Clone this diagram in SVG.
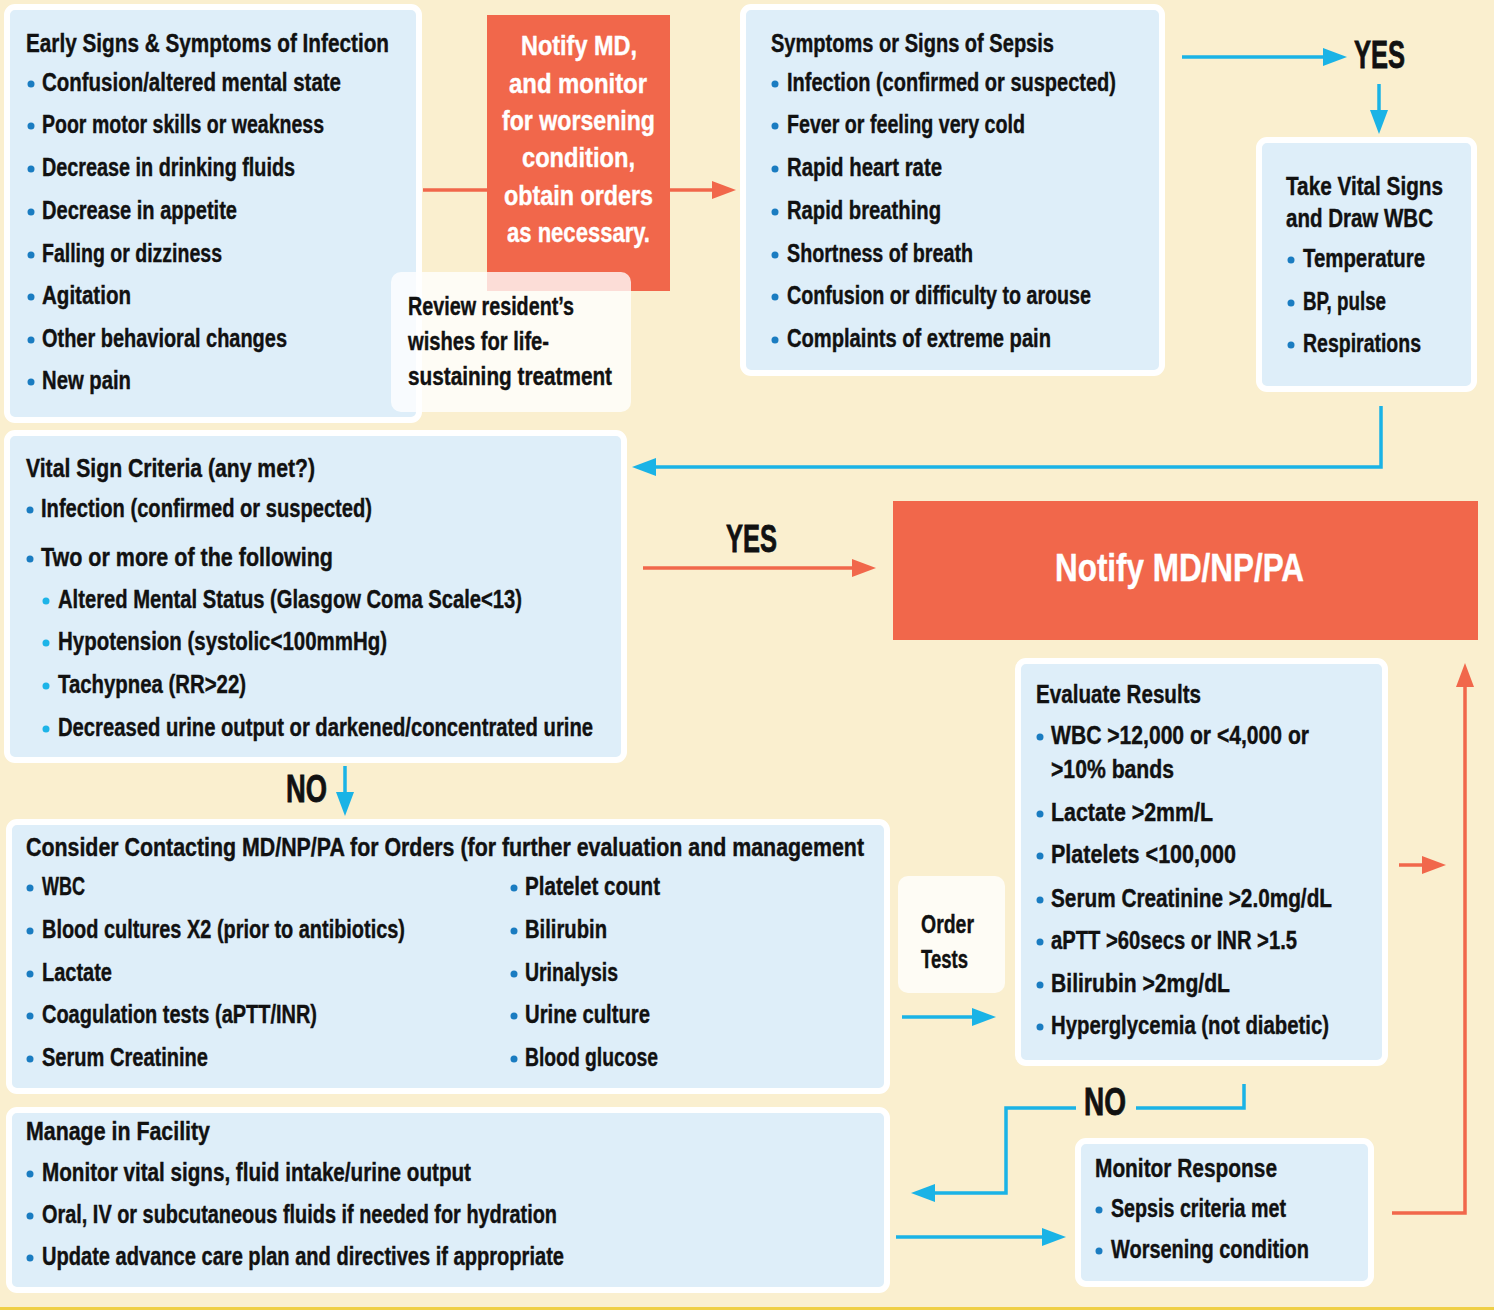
<svg xmlns="http://www.w3.org/2000/svg" width="1494" height="1310" viewBox="0 0 1494 1310">
<style>
text{font-family:"Liberation Sans Narrow","Liberation Sans",Arial,sans-serif;font-weight:700;fill:#111;stroke:#111;stroke-width:0.4;}
.t{font-size:25px;}
.w{font-size:28px;fill:#fff;stroke:#fff;}
.big{font-size:39px;fill:#fff;stroke:#fff;}
.lab{font-size:38px;stroke-width:0.8;}
.box{fill:#deeef9;stroke:#fff;stroke-width:6;}
.note{fill:#fff;fill-opacity:0.78;}
.org{fill:#f1674b;}
.b{fill:#1a7cc1;}
.sb{fill:#1db4e8;}
.cy{fill:none;stroke:#1ab3e6;stroke-width:3.5;}
.or{fill:none;stroke:#f1674b;stroke-width:3.5;}
</style>
<defs>
<marker id="ac" markerUnits="userSpaceOnUse" viewBox="0 0 24 18" markerWidth="24" markerHeight="18" refX="4" refY="9" orient="auto"><path d="M0,0 L24,9 L0,18 z" fill="#1ab3e6"/></marker>
<marker id="ao" markerUnits="userSpaceOnUse" viewBox="0 0 24 18" markerWidth="24" markerHeight="18" refX="4" refY="9" orient="auto"><path d="M0,0 L24,9 L0,18 z" fill="#f1674b"/></marker>
</defs>
<rect x="0" y="0" width="1494" height="1310" fill="#faefcf"/>
<rect x="0" y="1307" width="1494" height="3" fill="#efcf45"/>

<g id="connectors">
<path class="or" d="M423,190 H716" marker-end="url(#ao)"/>
<path class="cy" d="M1182,57 H1327" marker-end="url(#ac)"/>
<path class="cy" d="M1379,84 V114" marker-end="url(#ac)"/>
<path class="cy" d="M1381,406 V467 H652" marker-end="url(#ac)"/>
<path class="or" d="M643,568 H856" marker-end="url(#ao)"/>
<path class="cy" d="M345,766 V796" marker-end="url(#ac)"/>
<path class="cy" d="M902,1017 H976" marker-end="url(#ac)"/>
<path class="or" d="M1399,865 H1426" marker-end="url(#ao)"/>
<path class="or" d="M1392,1213 H1465 V683" marker-end="url(#ao)"/>
<path class="cy" d="M1244,1084 V1108 H1136"/>
<path class="cy" d="M1076,1108 H1006 V1193 H931" marker-end="url(#ac)"/>
<path class="cy" d="M896,1237 H1046" marker-end="url(#ac)"/>
<text class="lab" x="1354" y="68" textLength="51" lengthAdjust="spacingAndGlyphs">YES</text>
<text class="lab" x="726" y="552" textLength="51" lengthAdjust="spacingAndGlyphs">YES</text>
<text class="lab" x="286" y="802" textLength="41" lengthAdjust="spacingAndGlyphs">NO</text>
<text class="lab" x="1084" y="1115" textLength="42" lengthAdjust="spacingAndGlyphs">NO</text>
</g>

<g id="early-signs">
<rect class="box" x="7" y="7" width="412" height="413" rx="8"/>
<text class="t" x="26" y="52" textLength="363" lengthAdjust="spacingAndGlyphs">Early Signs &amp; Symptoms of Infection</text>
<circle class="b" cx="31" cy="84" r="3.5"/><text class="t" x="42" y="91" textLength="299" lengthAdjust="spacingAndGlyphs">Confusion/altered mental state</text>
<circle class="b" cx="31" cy="126" r="3.5"/><text class="t" x="42" y="133" textLength="282" lengthAdjust="spacingAndGlyphs">Poor motor skills or weakness</text>
<circle class="b" cx="31" cy="169" r="3.5"/><text class="t" x="42" y="176" textLength="253" lengthAdjust="spacingAndGlyphs">Decrease in drinking fluids</text>
<circle class="b" cx="31" cy="212" r="3.5"/><text class="t" x="42" y="219" textLength="195" lengthAdjust="spacingAndGlyphs">Decrease in appetite</text>
<circle class="b" cx="31" cy="255" r="3.5"/><text class="t" x="42" y="262" textLength="180" lengthAdjust="spacingAndGlyphs">Falling or dizziness</text>
<circle class="b" cx="31" cy="297" r="3.5"/><text class="t" x="42" y="304" textLength="89" lengthAdjust="spacingAndGlyphs">Agitation</text>
<circle class="b" cx="31" cy="340" r="3.5"/><text class="t" x="42" y="347" textLength="245" lengthAdjust="spacingAndGlyphs">Other behavioral changes</text>
<circle class="b" cx="31" cy="382" r="3.5"/><text class="t" x="42" y="389" textLength="89" lengthAdjust="spacingAndGlyphs">New pain</text>
</g>

<g id="notify-md-monitor">
<rect class="org" x="487" y="15" width="183" height="276"/>
<text class="w" x="521" y="55" textLength="116" lengthAdjust="spacingAndGlyphs">Notify MD,</text>
<text class="w" x="509" y="93" textLength="138" lengthAdjust="spacingAndGlyphs">and monitor</text>
<text class="w" x="502" y="130" textLength="153" lengthAdjust="spacingAndGlyphs">for worsening</text>
<text class="w" x="522" y="167" textLength="113" lengthAdjust="spacingAndGlyphs">condition,</text>
<text class="w" x="504" y="205" textLength="149" lengthAdjust="spacingAndGlyphs">obtain orders</text>
<text class="w" x="507" y="242" textLength="143" lengthAdjust="spacingAndGlyphs">as necessary.</text>
</g>

<g id="review-wishes">
<rect class="note" x="391" y="272" width="240" height="140" rx="10"/>
<text class="t" x="408" y="315" textLength="166" lengthAdjust="spacingAndGlyphs">Review resident’s</text>
<text class="t" x="408" y="350" textLength="141" lengthAdjust="spacingAndGlyphs">wishes for life-</text>
<text class="t" x="408" y="385" textLength="204" lengthAdjust="spacingAndGlyphs">sustaining treatment</text>
</g>

<g id="sepsis-signs">
<rect class="box" x="743" y="7" width="419" height="366" rx="8"/>
<text class="t" x="771" y="52" textLength="283" lengthAdjust="spacingAndGlyphs">Symptoms or Signs of Sepsis</text>
<circle class="b" cx="775" cy="84" r="3.5"/><text class="t" x="787" y="91" textLength="329" lengthAdjust="spacingAndGlyphs">Infection (confirmed or suspected)</text>
<circle class="b" cx="775" cy="126" r="3.5"/><text class="t" x="787" y="133" textLength="238" lengthAdjust="spacingAndGlyphs">Fever or feeling very cold</text>
<circle class="b" cx="775" cy="169" r="3.5"/><text class="t" x="787" y="176" textLength="155" lengthAdjust="spacingAndGlyphs">Rapid heart rate</text>
<circle class="b" cx="775" cy="212" r="3.5"/><text class="t" x="787" y="219" textLength="154" lengthAdjust="spacingAndGlyphs">Rapid breathing</text>
<circle class="b" cx="775" cy="255" r="3.5"/><text class="t" x="787" y="262" textLength="186" lengthAdjust="spacingAndGlyphs">Shortness of breath</text>
<circle class="b" cx="775" cy="297" r="3.5"/><text class="t" x="787" y="304" textLength="304" lengthAdjust="spacingAndGlyphs">Confusion or difficulty to arouse</text>
<circle class="b" cx="775" cy="340" r="3.5"/><text class="t" x="787" y="347" textLength="264" lengthAdjust="spacingAndGlyphs">Complaints of extreme pain</text>
</g>

<g id="take-vitals">
<rect class="box" x="1259" y="140" width="215" height="249" rx="8"/>
<text class="t" x="1286" y="195" textLength="157" lengthAdjust="spacingAndGlyphs">Take Vital Signs</text>
<text class="t" x="1286" y="227" textLength="147" lengthAdjust="spacingAndGlyphs">and Draw WBC</text>
<circle class="b" cx="1291" cy="260" r="3.5"/><text class="t" x="1303" y="267" textLength="122" lengthAdjust="spacingAndGlyphs">Temperature</text>
<circle class="b" cx="1291" cy="303" r="3.5"/><text class="t" x="1303" y="310" textLength="83" lengthAdjust="spacingAndGlyphs">BP, pulse</text>
<circle class="b" cx="1291" cy="345" r="3.5"/><text class="t" x="1303" y="352" textLength="118" lengthAdjust="spacingAndGlyphs">Respirations</text>
</g>

<g id="vital-criteria">
<rect class="box" x="7" y="433" width="617" height="327" rx="8"/>
<text class="t" x="26" y="477" textLength="289" lengthAdjust="spacingAndGlyphs">Vital Sign Criteria (any met?)</text>
<circle class="b" cx="30" cy="510" r="3.5"/><text class="t" x="41" y="517" textLength="331" lengthAdjust="spacingAndGlyphs">Infection (confirmed or suspected)</text>
<circle class="b" cx="30" cy="559" r="3.5"/><text class="t" x="41" y="566" textLength="292" lengthAdjust="spacingAndGlyphs">Two or more of the following</text>
<circle class="sb" cx="46" cy="601" r="3.5"/><text class="t" x="58" y="608" textLength="464" lengthAdjust="spacingAndGlyphs">Altered Mental Status (Glasgow Coma Scale&lt;13)</text>
<circle class="sb" cx="46" cy="643" r="3.5"/><text class="t" x="58" y="650" textLength="329" lengthAdjust="spacingAndGlyphs">Hypotension (systolic&lt;100mmHg)</text>
<circle class="sb" cx="46" cy="686" r="3.5"/><text class="t" x="58" y="693" textLength="188" lengthAdjust="spacingAndGlyphs">Tachypnea (RR&gt;22)</text>
<circle class="sb" cx="46" cy="729" r="3.5"/><text class="t" x="58" y="736" textLength="535" lengthAdjust="spacingAndGlyphs">Decreased urine output or darkened/concentrated urine</text>
</g>

<g id="notify-md-np-pa">
<rect class="org" x="893" y="501" width="585" height="139"/>
<text class="big" x="1055" y="581" textLength="249" lengthAdjust="spacingAndGlyphs">Notify MD/NP/PA</text>
</g>

<g id="consider-contacting">
<rect class="box" x="9" y="822" width="878" height="269" rx="8"/>
<text class="t" x="26" y="856" textLength="838" lengthAdjust="spacingAndGlyphs">Consider Contacting MD/NP/PA for Orders (for further evaluation and management</text>
<circle class="b" cx="30" cy="888" r="3.5"/><text class="t" x="42" y="895" textLength="43" lengthAdjust="spacingAndGlyphs">WBC</text>
<circle class="b" cx="30" cy="931" r="3.5"/><text class="t" x="42" y="938" textLength="363" lengthAdjust="spacingAndGlyphs">Blood cultures X2 (prior to antibiotics)</text>
<circle class="b" cx="30" cy="974" r="3.5"/><text class="t" x="42" y="981" textLength="70" lengthAdjust="spacingAndGlyphs">Lactate</text>
<circle class="b" cx="30" cy="1016" r="3.5"/><text class="t" x="42" y="1023" textLength="275" lengthAdjust="spacingAndGlyphs">Coagulation tests (aPTT/INR)</text>
<circle class="b" cx="30" cy="1059" r="3.5"/><text class="t" x="42" y="1066" textLength="166" lengthAdjust="spacingAndGlyphs">Serum Creatinine</text>
<circle class="b" cx="514" cy="888" r="3.5"/><text class="t" x="525" y="895" textLength="135" lengthAdjust="spacingAndGlyphs">Platelet count</text>
<circle class="b" cx="514" cy="931" r="3.5"/><text class="t" x="525" y="938" textLength="82" lengthAdjust="spacingAndGlyphs">Bilirubin</text>
<circle class="b" cx="514" cy="974" r="3.5"/><text class="t" x="525" y="981" textLength="93" lengthAdjust="spacingAndGlyphs">Urinalysis</text>
<circle class="b" cx="514" cy="1016" r="3.5"/><text class="t" x="525" y="1023" textLength="125" lengthAdjust="spacingAndGlyphs">Urine culture</text>
<circle class="b" cx="514" cy="1059" r="3.5"/><text class="t" x="525" y="1066" textLength="133" lengthAdjust="spacingAndGlyphs">Blood glucose</text>
</g>

<g id="manage-facility">
<rect class="box" x="9" y="1110" width="878" height="180" rx="8"/>
<text class="t" x="26" y="1140" textLength="184" lengthAdjust="spacingAndGlyphs">Manage in Facility</text>
<circle class="b" cx="30" cy="1174" r="3.5"/><text class="t" x="42" y="1181" textLength="429" lengthAdjust="spacingAndGlyphs">Monitor vital signs, fluid intake/urine output</text>
<circle class="b" cx="30" cy="1216" r="3.5"/><text class="t" x="42" y="1223" textLength="515" lengthAdjust="spacingAndGlyphs">Oral, IV or subcutaneous fluids if needed for hydration</text>
<circle class="b" cx="30" cy="1258" r="3.5"/><text class="t" x="42" y="1265" textLength="522" lengthAdjust="spacingAndGlyphs">Update advance care plan and directives if appropriate</text>
</g>

<g id="order-tests">
<rect class="note" x="898" y="876" width="107" height="117" rx="10"/>
<text class="t" x="921" y="933" textLength="53" lengthAdjust="spacingAndGlyphs">Order</text>
<text class="t" x="921" y="968" textLength="47" lengthAdjust="spacingAndGlyphs">Tests</text>
</g>

<g id="evaluate-results">
<rect class="box" x="1018" y="661" width="367" height="402" rx="8"/>
<text class="t" x="1036" y="703" textLength="165" lengthAdjust="spacingAndGlyphs">Evaluate Results</text>
<circle class="b" cx="1040" cy="737" r="3.5"/><text class="t" x="1051" y="744" textLength="258" lengthAdjust="spacingAndGlyphs">WBC &gt;12,000 or &lt;4,000 or</text>
<text class="t" x="1051" y="778" textLength="123" lengthAdjust="spacingAndGlyphs">&gt;10% bands</text>
<circle class="b" cx="1040" cy="814" r="3.5"/><text class="t" x="1051" y="821" textLength="162" lengthAdjust="spacingAndGlyphs">Lactate &gt;2mm/L</text>
<circle class="b" cx="1040" cy="856" r="3.5"/><text class="t" x="1051" y="863" textLength="185" lengthAdjust="spacingAndGlyphs">Platelets &lt;100,000</text>
<circle class="b" cx="1040" cy="900" r="3.5"/><text class="t" x="1051" y="907" textLength="281" lengthAdjust="spacingAndGlyphs">Serum Creatinine &gt;2.0mg/dL</text>
<circle class="b" cx="1040" cy="942" r="3.5"/><text class="t" x="1051" y="949" textLength="246" lengthAdjust="spacingAndGlyphs">aPTT &gt;60secs or INR &gt;1.5</text>
<circle class="b" cx="1040" cy="985" r="3.5"/><text class="t" x="1051" y="992" textLength="179" lengthAdjust="spacingAndGlyphs">Bilirubin &gt;2mg/dL</text>
<circle class="b" cx="1040" cy="1027" r="3.5"/><text class="t" x="1051" y="1034" textLength="278" lengthAdjust="spacingAndGlyphs">Hyperglycemia (not diabetic)</text>
</g>

<g id="monitor-response">
<rect class="box" x="1078" y="1141" width="293" height="143" rx="8"/>
<text class="t" x="1095" y="1177" textLength="182" lengthAdjust="spacingAndGlyphs">Monitor Response</text>
<circle class="b" cx="1099" cy="1210" r="3.5"/><text class="t" x="1111" y="1217" textLength="175" lengthAdjust="spacingAndGlyphs">Sepsis criteria met</text>
<circle class="b" cx="1099" cy="1251" r="3.5"/><text class="t" x="1111" y="1258" textLength="198" lengthAdjust="spacingAndGlyphs">Worsening condition</text>
</g>
</svg>
